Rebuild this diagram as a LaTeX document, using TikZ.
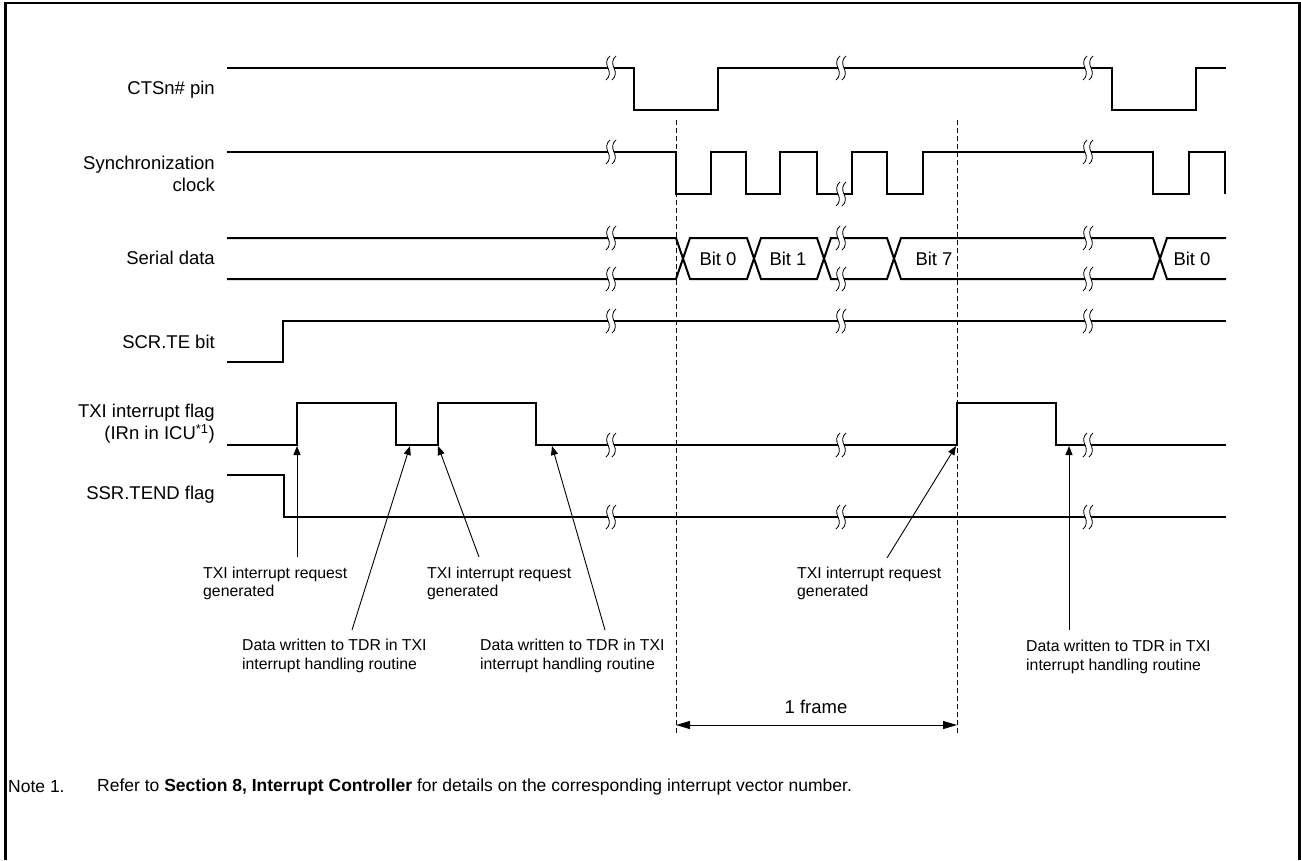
\documentclass[tikz,border=0pt]{standalone}
\usepackage{fontspec}
\setmainfont{Liberation Sans}
\usetikzlibrary{arrows.meta}
\tikzset{
  sig/.style={line width=2pt, line join=miter, line cap=butt},
  ann/.style={line width=0.9pt, -{Triangle[length=9pt,width=7pt]}},
  dimline/.style={line width=0.9pt, {Triangle[length=14pt,width=8pt]}-{Triangle[length=14pt,width=8pt]}},
  guide/.style={line width=0.9pt, dash pattern=on 5pt off 3pt},
  lab/.style={anchor=east, inner sep=0pt, align=right, font=\fontsize{18.5}{22.5}\selectfont},
  bitlab/.style={inner sep=0pt, font=\fontsize{18.5}{22}\selectfont},
  annlab/.style={anchor=north west, inner sep=0pt, align=left, font=\fontsize{15.8}{18.8}\selectfont},
  notelab/.style={anchor=west, inner sep=0pt, font=\fontsize{17.5}{21}\selectfont},
  brk/.pic={
    \fill[white] (-1,-12) .. controls (-5,-9) and (-5,-4) .. (-3,0) .. controls (-1,4) and (-1,9) .. (-5,12)
      -- (1,12) .. controls (5,9) and (5,4) .. (3,0) .. controls (1,-4) and (1,-9) .. (5,-12) -- cycle;
    \draw[line width=0.8pt] (-1,-12) .. controls (-5,-9) and (-5,-4) .. (-3,0) .. controls (-1,4) and (-1,9) .. (-5,12);
    \draw[line width=0.8pt] (5,-12) .. controls (1,-9) and (1,-4) .. (3,0) .. controls (5,4) and (5,9) .. (1,12);
  }
}
\begin{document}
\begin{tikzpicture}[x=1pt,y=-1pt]
\useasboundingbox (0,0) rectangle (1301,860);
% frame
\draw[line width=2.5pt] (5.5,860) -- (5.5,3) -- (1299.5,3) -- (1299.5,860);

% guide lines
\coordinate (g1t) at (676,120); \coordinate (g1b) at (676,733);
\coordinate (g2t) at (957,120); \coordinate (g2b) at (957,733);
\draw[guide] (g1t) -- (g1b);
\draw[guide] (g2t) -- (g2b);

% left labels
\node[lab] (lcts) at (215,90) {CTSn\# pin};
\node[lab] (lsck) at (215,174) {Synchronization\\clock};
\node[lab] (lsd) at (215,258) {Serial data};
\node[lab] (lte) at (215,342) {SCR.TE bit};
\node[lab] (ltxi) at (215,423.5) {TXI interrupt flag\\(IRn in ICU\textsuperscript{*1})};
\node[lab] (ltend) at (215,495) {SSR.TEND flag};

% CTSn# pin
\draw[sig] (227,68) -- (634,68) -- (634,110) -- (718,110) -- (718,68) -- (1112,68) -- (1112,110) -- (1196,110) -- (1196,68) -- (1226,68);
% Synchronization clock
\draw[sig] (227,152) -- (676,152) -- (676,194) -- (711,194) -- (711,152) -- (746,152) -- (746,194) -- (780,194) -- (780,152) -- (817,152) -- (817,194) -- (852,194) -- (852,152) -- (887,152) -- (887,194) -- (923,194) -- (923,152) -- (1153,152) -- (1153,194) -- (1189,194) -- (1189,152) -- (1225,152) -- (1225,194);
% Serial data
\draw[sig] (227,238) -- (676,238) -- (690,279) -- (747,279) -- (761,238) -- (817,238) -- (831,279) -- (887,279) -- (901,238) -- (1153,238) -- (1167,279) -- (1226,279);
\draw[sig] (227,279) -- (676,279) -- (690,238) -- (747,238) -- (761,279) -- (817,279) -- (831,238) -- (887,238) -- (901,279) -- (1153,279) -- (1167,238) -- (1226,238);
\node[bitlab] (b0) at (718,258.5) {Bit 0};
\node[bitlab] (b1) at (788,258.5) {Bit 1};
\node[bitlab] (b7) at (934,258.5) {Bit 7};
\node[bitlab] (b0b) at (1192,258.5) {Bit 0};
% SCR.TE
\draw[sig] (227,362) -- (283,362) -- (283,321) -- (1226,321);
% TXI flag
\draw[sig] (227,445) -- (297,445) -- (297,403) -- (396,403) -- (396,445) -- (438,445) -- (438,403) -- (536,403) -- (536,445) -- (957,445) -- (957,403) -- (1056,403) -- (1056,445) -- (1226,445);
% SSR.TEND
\draw[sig] (227,475) -- (284,475) -- (284,517) -- (1226,517);

% break marks
\foreach \y in {68,152,238,279,321,445,517} \pic at (611,\y) {brk};
\foreach \y in {68,194,238,279,321,445,517} \pic at (841,\y) {brk};
\foreach \y in {68,152,238,279,321,445,517} \pic at (1088,\y) {brk};

% annotations
\node[annlab] (t1) at (203,566.5) {TXI interrupt request\\generated};
\node[annlab] (d1) at (242,639) {Data written to TDR in TXI\\interrupt handling routine};
\node[annlab] (t2) at (427,566.5) {TXI interrupt request\\generated};
\node[annlab] (d2) at (480,639) {Data written to TDR in TXI\\interrupt handling routine};
\node[annlab] (t3) at (797,566.5) {TXI interrupt request\\generated};
\node[annlab] (d3) at (1026,640) {Data written to TDR in TXI\\interrupt handling routine};

\coordinate (t1s) at (297,557); \coordinate (t1e) at (297,446);
\coordinate (d1s) at (352,630); \coordinate (d1e) at (410,446);
\coordinate (t2s) at (479,557); \coordinate (t2e) at (438,446);
\coordinate (d2s) at (605,630); \coordinate (d2e) at (552,446);
\coordinate (t3s) at (887,558); \coordinate (t3e) at (956,446);
\coordinate (d3s) at (1069,630); \coordinate (d3e) at (1069,446);
\draw[ann] (t1s) -- (t1e);
\draw[ann] (d1s) -- (d1e);
\draw[ann] (t2s) -- (t2e);
\draw[ann] (d2s) -- (d2e);
\draw[ann] (t3s) -- (t3e);
\draw[ann] (d3s) -- (d3e);

% 1 frame
\coordinate (f1) at (676,725); \coordinate (f2) at (957,725);
\draw[dimline] (f1) -- (f2);
\node[bitlab] (fr) at (816,707) {1 frame};

% note
\node[notelab] (n1) at (8,787) {Note 1.};
\node[notelab] (n2) at (97,787) {Refer to \textbf{Section 8, Interrupt Controller} for details on the corresponding interrupt vector number.};
\end{tikzpicture}
\end{document}
